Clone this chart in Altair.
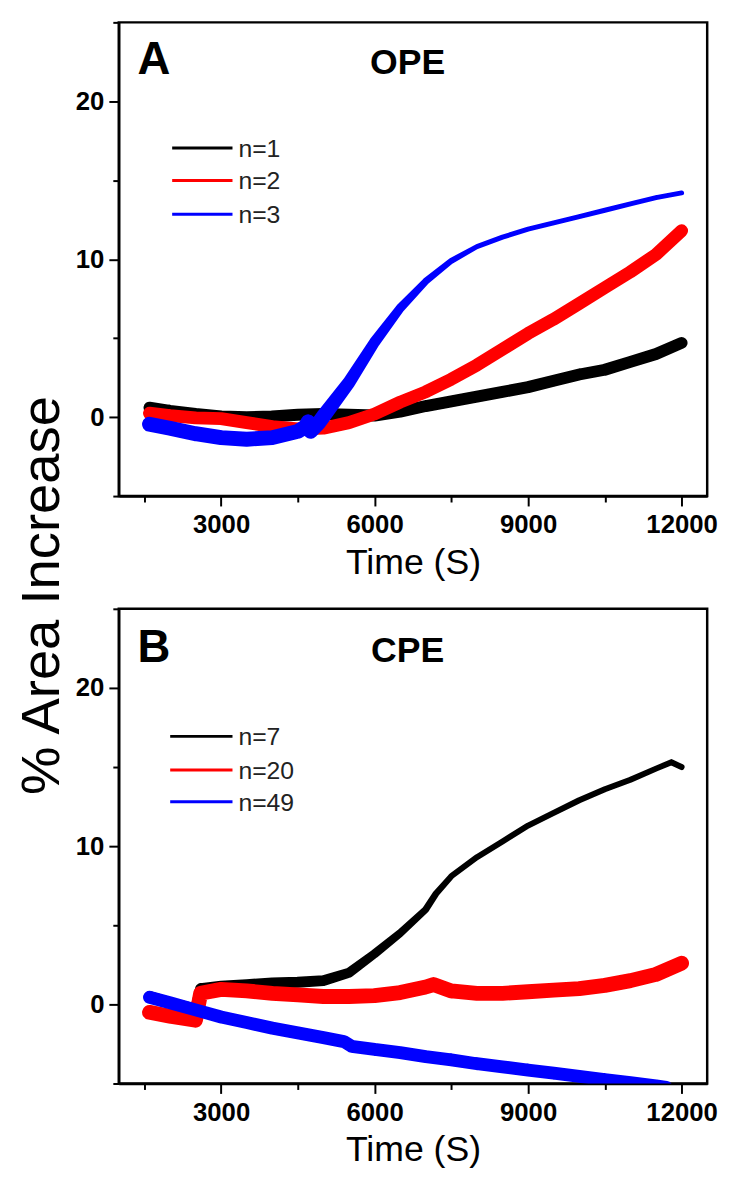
import altair as alt
import numpy as np
import pandas as pd

FONT = "Liberation Sans"

# ---------------- Panel A (OPE) ----------------
a_t_n1 = [1600, 2000, 2500, 3000, 3500, 4000, 4500, 5000, 5500, 6000, 6500, 7000, 7500, 8000, 8500, 9000, 9500, 10000, 10500, 11000, 11500, 12000]
a_v_n1 = [0.6, 0.4, 0.2, 0.05, 0.0, 0.05, 0.15, 0.2, 0.15, 0.1, 0.35, 0.7, 1.0, 1.3, 1.6, 1.9, 2.3, 2.7, 3.0, 3.5, 4.0, 4.7]

a_t_n2 = [1600, 2000, 2500, 3000, 3500, 4000, 4500, 5000, 5500, 6000, 6500, 7000, 7500, 8000, 8500, 9000, 9500, 10000, 10500, 11000, 11500, 12000]
a_v_n2 = [0.25, 0.1, -0.05, -0.1, -0.35, -0.6, -0.75, -0.7, -0.35, 0.2, 0.95, 1.6, 2.4, 3.3, 4.3, 5.3, 6.2, 7.2, 8.2, 9.2, 10.3, 11.8]

a_t_n3 = [1600, 2000, 2500, 3000, 3500, 4000, 4500, 4650, 4700, 4750, 4900, 5000, 5500, 6000, 6500, 7000, 7500, 8000, 8500, 9000, 9500, 10000, 10500, 11000, 11500, 12000]
a_v_n3 = [-0.45, -0.7, -1.05, -1.3, -1.4, -1.3, -0.9, -0.6, -0.3, -0.9, -0.4, 0.05, 2.2, 4.75, 6.9, 8.6, 9.9, 10.8, 11.4, 11.9, 12.3, 12.7, 13.1, 13.5, 13.9, 14.2]

# ---------------- Panel B (CPE) ----------------
b_t_n7 = [1600, 2000, 2500, 2600, 3000, 3500, 4000, 4500, 5000, 5500, 6000, 6500, 7000, 7200, 7500, 8000, 8500, 9000, 9500, 10000, 10500, 11000, 11500, 11800, 12000]
b_v_n7 = [0.5, 0.1, -0.3, 1.0, 1.15, 1.25, 1.35, 1.4, 1.5, 2.0, 3.2, 4.5, 6.0, 7.0, 8.1, 9.3, 10.3, 11.3, 12.1, 12.9, 13.6, 14.2, 14.9, 15.3, 15.0]

b_t_n20 = [1600, 2000, 2500, 2600, 3000, 3500, 4000, 4500, 5000, 5500, 6000, 6500, 7000, 7150, 7500, 8000, 8500, 9000, 9500, 10000, 10500, 11000, 11500, 12000]
b_v_n20 = [-0.5, -0.75, -1.0, 0.7, 0.95, 0.85, 0.7, 0.6, 0.5, 0.5, 0.55, 0.75, 1.1, 1.25, 0.85, 0.7, 0.7, 0.8, 0.9, 1.0, 1.2, 1.5, 1.9, 2.6]

b_t_n49 = [1600, 2000, 2500, 3000, 3500, 4000, 4500, 5000, 5400, 5550, 6000, 6500, 7000, 7500, 8000, 8500, 9000, 9500, 10000, 10500, 11000, 11500, 11700]
b_v_n49 = [0.45, 0.1, -0.35, -0.8, -1.15, -1.5, -1.8, -2.1, -2.35, -2.65, -2.85, -3.05, -3.3, -3.5, -3.75, -3.95, -4.15, -4.35, -4.55, -4.75, -4.95, -5.15, -5.25]

a_labels = ["n=1", "n=2", "n=3"]
b_labels = ["n=7", "n=20", "n=49"]
series_colors = ["#000000", "#ff0000", "#0000ff"]

x_ticks = [1500, 3000, 4500, 6000, 7500, 9000, 10500, 12000]
y_ticks = [-5, 0, 5, 10, 15, 20, 25]

# Stroke-width styling (pixels) along each trace: (anchor times, widths)
STYLE_A = [([0, 20000], [12, 12]),
           ([0, 20000], [13, 13]),
           ([0, 5000, 6000, 7000, 8000, 20000], [15, 15, 11, 7, 5, 5])]
STYLE_B = [([0, 5000, 6000, 7500, 20000], [11, 11, 9, 6, 6]),
           ([0, 20000], [15, 15]),
           ([0, 20000], [13, 13])]

W = 595


def x_enc():
    return alt.X(
        "t:Q",
        scale=alt.Scale(domain=[1000, 12500], nice=False, zero=False),
        axis=alt.Axis(
            values=x_ticks,
            format="d",
            labelExpr="datum.value % 3000 === 0 ? datum.label : ''",
            tickSize={"condition": {"test": "datum.value % 3000 === 0", "value": 10}, "value": 6},
            title="Time (S)",
            titlePadding=8,
            labelPadding=6,
        ),
    )


def y_enc(show_title):
    kw = dict(
        values=y_ticks,
        labelExpr="datum.value % 10 === 0 ? datum.label : ''",
        tickSize={"condition": {"test": "datum.value % 10 === 0", "value": 10}, "value": 6},
        labelPadding=5,
    )
    if show_title:
        kw.update(title="% Area Increase", titleX=-78, titleY=579, titleBaseline="middle",
                  titleAlign="center", titleFontSize=55)
    else:
        kw.update(title=None)
    return alt.Y("v:Q", scale=alt.Scale(domain=[-5, 25], nice=False, zero=False), axis=alt.Axis(**kw))


def trace_layer(ts, vs, color, style, show_title):
    df = pd.DataFrame({"t": ts, "v": vs})
    df["w"] = np.interp(df["t"], style[0], style[1])
    return (
        alt.Chart(df)
        .mark_trail(color=color, clip=True)
        .encode(x=x_enc(), y=y_enc(show_title),
                size=alt.Size("w:Q", scale=None, legend=None))
    )


def panel(series, styles, labels, letter, name, leg_rows, leg_x0, letter_y, height, show_title):
    layers = [trace_layer(ts, vs, series_colors[i], styles[i], show_title)
              for i, (ts, vs) in enumerate(series)]
    for i, lab in enumerate(labels):
        d = alt.Data(values=[{"label": lab}])
        layers.append(
            alt.Chart(d).mark_rule(color=series_colors[i], strokeWidth=3)
            .encode(x=alt.value(leg_x0), x2=alt.value(115), y=alt.value(leg_rows[i]))
        )
        layers.append(
            alt.Chart(d).mark_text(align="left", baseline="middle", font=FONT, fontSize=25,
                                   color="#222222")
            .encode(x=alt.value(121), y=alt.value(leg_rows[i] + 1), text="label:N")
        )
    d1 = alt.Data(values=[{"label": letter}])
    layers.append(
        alt.Chart(d1).mark_text(align="left", baseline="alphabetic", font=FONT, fontSize=46,
                                fontWeight="bold", color="black")
        .encode(x=alt.value(19), y=alt.value(letter_y), text="label:N")
    )
    d2 = alt.Data(values=[{"label": name}])
    layers.append(
        alt.Chart(d2).mark_text(align="center", baseline="alphabetic", font=FONT, fontSize=36,
                                fontWeight="bold", color="black")
        .encode(x=alt.value(292), y=alt.value(letter_y), text="label:N")
    )
    return alt.layer(*layers).properties(width=W, height=height)


pa = panel([(a_t_n1, a_v_n1), (a_t_n2, a_v_n2), (a_t_n3, a_v_n3)], STYLE_A,
           a_labels, "A", "OPE", [127, 160, 194], 54, 52, 479, True)
pb = panel([(b_t_n7, b_v_n7), (b_t_n20, b_v_n20), (b_t_n49, b_v_n49)], STYLE_B,
           b_labels, "B", "CPE", [129, 163, 195], 52, 54, 480, False)

chart = (
    alt.vconcat(pa, pb, spacing=114, bounds="flush")
    .properties(padding={"left": 5, "top": 5, "right": 5, "bottom": 0})
    .configure_view(stroke="black", strokeWidth=2.5)
    .configure_axis(
        domainColor="black", domainWidth=2.5, tickColor="black", tickWidth=2,
        labelFont=FONT, labelFontSize=26, labelFontWeight="bold", labelColor="black",
        grid=False,
        titleFont=FONT, titleFontSize=36, titleFontWeight="normal", titleColor="black",
    )
)

chart.save("out.html", embed_options={"renderer": "svg", "actions": False})
